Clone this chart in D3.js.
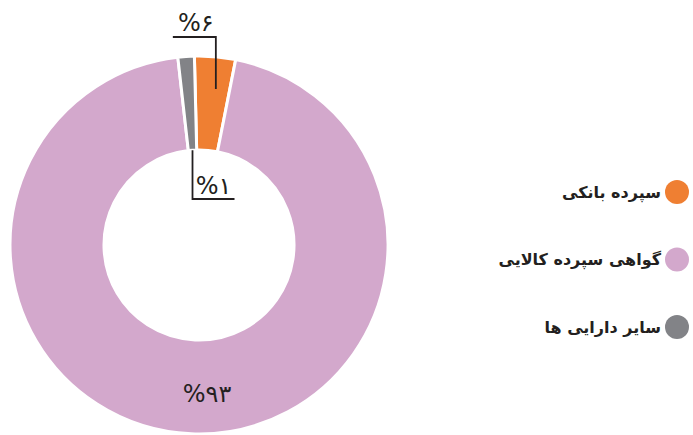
<!DOCTYPE html>
<html>
<head>
<meta charset="utf-8">
<script src="https://cdn.jsdelivr.net/npm/d3@7"></script>
<style>
  body { margin: 0; background: #fff; }
  text { font-family: "DejaVu Sans", sans-serif; fill: #231f20; }
</style>
</head>
<body>
<div id="chart"></div>
<script>
    var w = 693;
    var h = 435;

    // data
    var categories = ['سپرده بانکی', 'گواهی سپرده کالایی', 'سایر دارایی ها'];
    var values = [3.5, 95.1, 1.4];
    var labels = ['%۶', '%۹۳', '%۱'];
    var colors = ['#ef7f32', '#d3a8cc', '#828387'];

    var cx = 199, cy = 245;
    var outerR = 189, innerR = 95;

    var svg = d3.select('#chart').append('svg')
        .attr('width', w)
        .attr('height', h);

    var startDeg = -1.4;
    var pie = d3.pie()
        .sort(null)
        .startAngle(startDeg * Math.PI / 180)
        .endAngle(startDeg * Math.PI / 180 + 2 * Math.PI);

    var arcs = pie(values);
    var arc = d3.arc().innerRadius(innerR).outerRadius(outerR);

    var g = svg.append('g')
        .attr('transform', 'translate(' + [cx, cy] + ')');

    g.selectAll('.slice')
        .data(arcs)
        .enter().append('path')
        .attr('class', 'slice')
        .attr('d', arc)
        .attr('fill', function(d, i) { return colors[i]; })
        .attr('stroke', '#fff')
        .attr('stroke-width', 3);

    function pointAt(d, frac, r) {
        var a = d.startAngle + frac * (d.endAngle - d.startAngle);
        return [Math.sin(a) * r, -Math.cos(a) * r];
    }

    // leader line + label for the orange slice (goes up)
    var p0 = pointAt(arcs[0], 0.6, 157);
    var topY = 37 - cy;
    g.append('path')
        .attr('d', 'M' + p0 + 'V' + topY + 'H' + (p0[0] - 43))
        .attr('fill', 'none')
        .attr('stroke', '#231f20')
        .attr('stroke-width', 1.8);
    g.append('text')
        .attr('x', p0[0] - 20)
        .attr('y', topY - 6)
        .attr('text-anchor', 'middle')
        .style('font-size', '24px')
        .text(labels[0]);

    // leader line + label for the gray slice (goes down)
    var p2 = pointAt(arcs[2], 0.5, innerR);
    var botY = 199 - cy;
    g.append('path')
        .attr('d', 'M' + p2 + 'V' + botY + 'H' + (p2[0] + 42))
        .attr('fill', 'none')
        .attr('stroke', '#231f20')
        .attr('stroke-width', 1.8);
    g.append('text')
        .attr('x', p2[0] + 21)
        .attr('y', botY - 5)
        .attr('text-anchor', 'middle')
        .style('font-size', '24px')
        .text(labels[2]);

    // big slice label
    g.append('text')
        .attr('x', 8)
        .attr('y', 402 - cy)
        .attr('text-anchor', 'middle')
        .style('font-size', '24px')
        .text(labels[1]);

    // legend
    var legend = svg.selectAll('.legend')
        .data(categories)
        .enter().append('g')
        .attr('class', 'legend')
        .attr('transform', function(d, i) {
            return 'translate(' + [677, 192 + i * 67.5] + ')';
        });
    legend.append('circle')
        .attr('r', 12)
        .attr('fill', function(d, i) { return colors[i]; });
    legend.append('text')
        .attr('x', -16)
        .attr('dy', '0.35em')
        .attr('text-anchor', 'end')
        .style('font-size', '16px')
        .style('font-weight', 'bold')
        .text(function(d) { return d; });
</script>
</body>
</html>
